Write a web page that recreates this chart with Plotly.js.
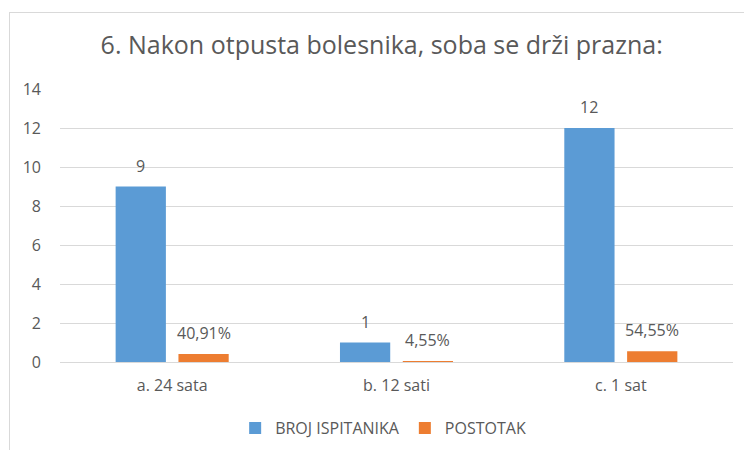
<!DOCTYPE html>
<html>
<head>
<meta charset="utf-8">
<script src="https://cdn.plot.ly/plotly-3.0.1.min.js"></script>
<style>
  html, body { margin: 0; padding: 0; background: #fff; }
  #frame { position: absolute; left: 9px; top: 12px; width: 800px; height: 500px; border: 1px solid #d9d9d9; }
  #chart { position: absolute; left: 0; top: 0; width: 744px; height: 450px; }
</style>
</head>
<body>
<div id="frame"></div>
<div id="chart"></div>
<script>
const categories = ["a. 24 sata", "b. 12 sati", "c. 1 sat"];
const seriesNames = ["BROJ ISPITANIKA", "POSTOTAK"];
const brojValues = [9, 1, 12];
const postotakValues = [0.4091, 0.0455, 0.5455];
const brojLabels = ["9", "1", "12"];
const postotakLabels = ["40,91%", "4,55%", "54,55%"];
const yTicks = [0, 2, 4, 6, 8, 10, 12, 14];

const fontFam = "'Open Sans', sans-serif";
const grey = "#595959";
const W = 744, H = 450;
const margin = { l: 60, r: 11, t: 89, b: 88 };
const bargap = 0.44;
const catPx = (W - margin.l - margin.r) / categories.length;
const barOffset = (1 - bargap) * catPx / 4;

const traces = [
  { type: "bar", name: seriesNames[0], x: categories, y: brojValues, marker: { color: "#5b9bd5" }, hoverinfo: "none" },
  { type: "bar", name: seriesNames[1], x: categories, y: postotakValues, marker: { color: "#ed7d31" }, hoverinfo: "none" }
];

const annotations = [];
categories.forEach((c, i) => {
  annotations.push({ x: c, y: brojValues[i], xref: "x", yref: "y", text: brojLabels[i], showarrow: false, xshift: -barOffset, yshift: 21, yanchor: "middle", font: { family: fontFam, size: 16, color: grey } });
  annotations.push({ x: c, y: postotakValues[i], xref: "x", yref: "y", text: postotakLabels[i], showarrow: false, xshift: barOffset, yshift: 21, yanchor: "middle", font: { family: fontFam, size: 16, color: grey } });
});

const layout = {
  width: W, height: H,
  margin: margin,
  paper_bgcolor: "rgba(0,0,0,0)", plot_bgcolor: "rgba(0,0,0,0)",
  title: { text: "6. Nakon otpusta bolesnika, soba se drži prazna:", font: { family: fontFam, size: 25, color: grey }, x: 0.513, xanchor: "center", y: 0.9, yanchor: "middle" },
  barmode: "group", bargap: bargap, bargroupgap: 0.2,
  xaxis: { tickfont: { family: fontFam, size: 16, color: grey }, showline: false, ticks: "", ticklabelstandoff: 12, automargin: false, fixedrange: true },
  yaxis: { range: [0, 14], tickvals: yTicks, ticktext: yTicks.map(String), tickfont: { family: fontFam, size: 16, color: grey }, gridcolor: "#d9d9d9", gridwidth: 1, zeroline: true, zerolinecolor: "#d9d9d9", zerolinewidth: 1, ticks: "", ticklabelstandoff: 18, automargin: false, fixedrange: true },
  annotations: annotations,
  showlegend: true,
  legend: { orientation: "h", x: 0.515, xref: "container", xanchor: "center", y: 22 / H, yref: "container", yanchor: "middle", font: { family: fontFam, size: 16, color: grey }, itemwidth: 30, traceorder: "normal" },
  font: { family: fontFam, color: grey }
};

Plotly.newPlot("chart", traces, layout, { displayModeBar: false, staticPlot: true });
</script>
</body>
</html>
